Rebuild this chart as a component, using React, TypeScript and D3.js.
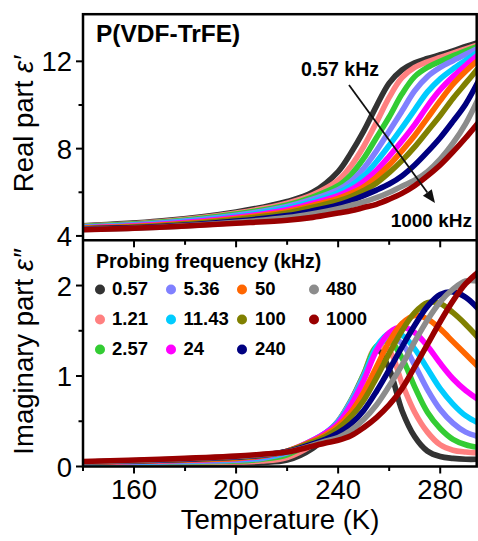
import React from "react";
import * as d3 from "d3";

const W = 478;
const H = 541;

const freqs = ["0.57", "1.21", "2.57", "5.36", "11.43", "24", "50", "100", "240", "480", "1000"];
const colors = ["#333333", "#ff8080", "#33cc33", "#8080ff", "#00ccff", "#ff00ff", "#ff6600", "#808000", "#000080", "#8c8c8c", "#990000"];

const tempsReal = [140, 170, 200, 220, 230, 240, 245, 250, 255, 260, 265, 270, 275, 280, 285, 290, 295];
const real057 = [4.47, 4.68, 5.1, 5.58, 6.0, 6.95, 7.8, 8.8, 9.95, 11.0, 11.6, 11.93, 12.13, 12.3, 12.48, 12.68, 12.87];
const real121 = [4.45, 4.65, 5.05, 5.5, 5.88, 6.55, 7.2, 8.1, 9.2, 10.35, 11.25, 11.72, 11.98, 12.18, 12.38, 12.57, 12.76];
const real257 = [4.43, 4.62, 5.0, 5.42, 5.78, 6.3, 6.8, 7.55, 8.5, 9.45, 10.5, 11.3, 11.72, 12.0, 12.25, 12.48, 12.7];
const real536 = [4.41, 4.59, 4.95, 5.35, 5.68, 6.12, 6.5, 7.1, 7.9, 8.8, 9.72, 10.65, 11.3, 11.72, 12.03, 12.32, 12.6];
const real1143 = [4.39, 4.56, 4.9, 5.28, 5.58, 5.98, 6.3, 6.75, 7.4, 8.15, 8.95, 9.78, 10.6, 11.2, 11.65, 12.05, 12.45];
const real24 = [4.37, 4.53, 4.85, 5.2, 5.5, 5.85, 6.12, 6.5, 7.0, 7.65, 8.35, 9.1, 9.95, 10.7, 11.3, 11.82, 12.3];
const real50 = [4.36, 4.5, 4.8, 5.12, 5.4, 5.72, 5.95, 6.25, 6.7, 7.25, 7.9, 8.6, 9.4, 10.2, 10.95, 11.55, 12.07];
const real100 = [4.34, 4.47, 4.75, 5.05, 5.32, 5.6, 5.8, 6.08, 6.42, 6.9, 7.45, 8.08, 8.8, 9.52, 10.3, 11.0, 11.7];
const real240 = [4.32, 4.43, 4.68, 4.93, 5.15, 5.42, 5.62, 5.85, 6.1, 6.38, 6.75, 7.25, 7.85, 8.5, 9.25, 10.05, 11.1];
const real480 = [4.3, 4.4, 4.62, 4.84, 5.02, 5.25, 5.4, 5.56, 5.75, 5.99, 6.28, 6.55, 6.95, 7.52, 8.25, 9.15, 10.3];
const real1000 = [4.28, 4.4, 4.58, 4.72, 4.85, 5.05, 5.15, 5.3, 5.45, 5.68, 5.95, 6.3, 6.75, 7.25, 7.85, 8.5, 9.2];

const tempsImag = [140, 170, 200, 210, 220, 230, 235, 240, 245, 250, 255, 260, 265, 270, 275, 280, 285, 290, 295];
const imag057 = [0.03, 0.035, 0.04, 0.045, 0.07, 0.2, 0.33, 0.48, 0.7, 1.0, 1.3, 1.08, 0.62, 0.33, 0.17, 0.11, 0.09, 0.08, 0.08];
const imag121 = [0.035, 0.04, 0.05, 0.06, 0.1, 0.24, 0.35, 0.5, 0.72, 1.02, 1.32, 1.28, 0.92, 0.6, 0.38, 0.24, 0.18, 0.16, 0.15];
const imag257 = [0.035, 0.045, 0.06, 0.08, 0.13, 0.27, 0.36, 0.5, 0.73, 1.02, 1.33, 1.39, 1.2, 0.88, 0.6, 0.42, 0.3, 0.24, 0.21];
const imag536 = [0.04, 0.05, 0.07, 0.09, 0.15, 0.28, 0.37, 0.5, 0.72, 1.0, 1.3, 1.43, 1.36, 1.12, 0.85, 0.63, 0.48, 0.38, 0.33];
const imag1143 = [0.04, 0.055, 0.08, 0.1, 0.16, 0.29, 0.37, 0.49, 0.7, 0.98, 1.32, 1.47, 1.45, 1.3, 1.08, 0.86, 0.69, 0.56, 0.48];
const imag24 = [0.045, 0.06, 0.085, 0.11, 0.17, 0.29, 0.37, 0.48, 0.68, 0.95, 1.28, 1.48, 1.54, 1.48, 1.33, 1.14, 0.97, 0.84, 0.74];
const imag50 = [0.045, 0.065, 0.09, 0.115, 0.17, 0.28, 0.35, 0.45, 0.6, 0.82, 1.1, 1.38, 1.58, 1.67, 1.63, 1.52, 1.38, 1.24, 1.1];
const imag100 = [0.05, 0.07, 0.1, 0.12, 0.17, 0.27, 0.33, 0.42, 0.55, 0.73, 0.98, 1.25, 1.5, 1.7, 1.81, 1.8, 1.7, 1.57, 1.42];
const imag240 = [0.05, 0.07, 0.105, 0.125, 0.165, 0.25, 0.3, 0.37, 0.47, 0.62, 0.83, 1.07, 1.32, 1.56, 1.77, 1.9, 1.93, 1.87, 1.74];
const imag480 = [0.05, 0.075, 0.11, 0.13, 0.16, 0.235, 0.28, 0.32, 0.4, 0.52, 0.68, 0.89, 1.12, 1.38, 1.62, 1.82, 1.96, 2.05, 2.05];
const imag1000 = [0.055, 0.08, 0.115, 0.135, 0.16, 0.225, 0.26, 0.29, 0.34, 0.43, 0.54, 0.68, 0.86, 1.1, 1.35, 1.6, 1.83, 2.02, 2.15];

const realSeries = [real057, real121, real257, real536, real1143, real24, real50, real100, real240, real480, real1000];
const imagSeries = [imag057, imag121, imag257, imag536, imag1143, imag24, imag50, imag100, imag240, imag480, imag1000];

const xMajor = [160, 200, 240, 280];
const xMinor = [140, 180, 220, 260];
const realMajor = [4, 8, 12];
const realMinor = [6, 10];
const imagMajor = [0, 1, 2];
const imagMinor = [0.5, 1.5];

const FONT = "'Liberation Sans', Arial, Helvetica, sans-serif";

export default function App() {
  const left = 83;
  const right = 476.7;
  const top = 14.2;
  const mid = 240.3;
  const bottom = 466.5;

  const x = d3.scaleLinear().domain([140, 294.3]).range([left, right]);
  const yR = d3.scaleLinear().domain([3.8, 14.16]).range([mid, top]);
  const yI = d3.scaleLinear().domain([0, 2.5]).range([bottom, mid]);

  const lineR = d3
    .line<number>()
    .x((_, i) => x(tempsReal[i]))
    .y((d) => yR(d))
    .curve(d3.curveCatmullRom.alpha(0.5));
  const lineI = d3
    .line<number>()
    .x((_, i) => x(tempsImag[i]))
    .y((d) => yI(d))
    .curve(d3.curveCatmullRom.alpha(0.5));

  const SW = 5.6;
  const axisW = 2.5;

  // arrow
  const ax1 = 349, ay1 = 85, ax2 = 435, ay2 = 203;
  const ang = Math.atan2(ay2 - ay1, ax2 - ax1);
  const hl = 13, hw = 5.5;
  const bx = ax2 - hl * Math.cos(ang);
  const by = ay2 - hl * Math.sin(ang);
  const p1 = [bx + hw * Math.sin(ang), by - hw * Math.cos(ang)];
  const p2 = [bx - hw * Math.sin(ang), by + hw * Math.cos(ang)];

  const legendCols = [
    { mx: 100, tx: 112 },
    { mx: 171, tx: 183.5 },
    { mx: 242, tx: 255 },
    { mx: 314, tx: 326 },
  ];
  const legendRows = [295, 325, 355];

  return (
    <svg width={W} height={H} style={{ position: "absolute", left: 0, top: 0, background: "#fff" }} fontFamily={FONT}>
      <defs>
        <clipPath id="clipTop">
          <rect x={left} y={top} width={right - left} height={mid - top} />
        </clipPath>
        <clipPath id="clipBot">
          <rect x={left} y={mid} width={right - left} height={bottom - mid} />
        </clipPath>
      </defs>
      <rect x={0} y={0} width={W} height={H} fill="#fff" />

      <g clipPath="url(#clipTop)">
        {realSeries.map((s, k) => (
          <path key={k} d={lineR(s) || ""} fill="none" stroke={colors[k]} strokeWidth={SW} strokeLinejoin="round" />
        ))}
      </g>
      <g clipPath="url(#clipBot)">
        {imagSeries.map((s, k) => (
          <path key={k} d={lineI(s) || ""} fill="none" stroke={colors[k]} strokeWidth={SW} strokeLinejoin="round" />
        ))}
      </g>

      {/* frames */}
      <rect x={left} y={top} width={right - left} height={bottom - top} fill="none" stroke="#000" strokeWidth={axisW} />
      <line x1={left} x2={right} y1={mid} y2={mid} stroke="#000" strokeWidth={axisW} />

      {/* x ticks bottom */}
      {xMajor.map((t) => (
        <line key={"xb" + t} x1={x(t)} x2={x(t)} y1={bottom} y2={bottom + 7} stroke="#000" strokeWidth={2} />
      ))}
      {xMinor.map((t) => (
        <line key={"xbm" + t} x1={x(t)} x2={x(t)} y1={bottom} y2={bottom + 4.5} stroke="#000" strokeWidth={2} />
      ))}
      {/* x ticks at middle line (pointing down) */}
      {xMajor.map((t) => (
        <line key={"xm" + t} x1={x(t)} x2={x(t)} y1={mid} y2={mid + 7} stroke="#000" strokeWidth={2} />
      ))}
      {xMinor.map((t) => (
        <line key={"xmm" + t} x1={x(t)} x2={x(t)} y1={mid} y2={mid + 4.5} stroke="#000" strokeWidth={2} />
      ))}
      {xMajor.map((t) => (
        <text key={"xl" + t} x={x(t)} y={498.5} fontSize={27.5} textAnchor="middle" fill="#000">
          {t}
        </text>
      ))}

      {/* y ticks top */}
      {realMajor.map((v) => (
        <g key={"yr" + v}>
          <line x1={left - 7} x2={left} y1={yR(v)} y2={yR(v)} stroke="#000" strokeWidth={2} />
          <text x={72} y={yR(v) + 10} fontSize={27.5} textAnchor="end" fill="#000">
            {v}
          </text>
        </g>
      ))}
      {realMinor.map((v) => (
        <line key={"yrm" + v} x1={left - 4.5} x2={left} y1={yR(v)} y2={yR(v)} stroke="#000" strokeWidth={2} />
      ))}
      {/* y ticks bottom */}
      {imagMajor.map((v) => (
        <g key={"yi" + v}>
          <line x1={left - 7} x2={left} y1={yI(v)} y2={yI(v)} stroke="#000" strokeWidth={2} />
          <text x={72} y={yI(v) + 10} fontSize={27.5} textAnchor="end" fill="#000">
            {v}
          </text>
        </g>
      ))}
      {imagMinor.map((v) => (
        <line key={"yim" + v} x1={left - 4.5} x2={left} y1={yI(v)} y2={yI(v)} stroke="#000" strokeWidth={2} />
      ))}

      {/* axis titles */}
      <text x={280} y={528.5} fontSize={27.5} textAnchor="middle" fill="#000">
        Temperature (K)
      </text>
      <text transform={`translate(33,124) rotate(-90)`} fontSize={27.5} textAnchor="middle" fill="#000">
        Real part <tspan fontStyle="italic">ε′</tspan>
      </text>
      <text transform={`translate(33,352) rotate(-90)`} fontSize={27.5} textAnchor="middle" fill="#000">
        Imaginary part <tspan fontStyle="italic">ε″</tspan>
      </text>

      {/* annotations */}
      <text x={96} y={42} fontSize={24.5} fontWeight="bold" fill="#000">
        P(VDF-TrFE)
      </text>
      <text x={301} y={76} fontSize={19.5} fontWeight="bold" fill="#000">
        0.57 kHz
      </text>
      <text x={472} y={227} fontSize={19} fontWeight="bold" textAnchor="end" fill="#000">
        1000 kHz
      </text>
      <line x1={ax1} y1={ay1} x2={bx} y2={by} stroke="#111" strokeWidth={1.8} />
      <polygon points={`${ax2},${ay2} ${p1[0]},${p1[1]} ${p2[0]},${p2[1]}`} fill="#111" />

      {/* legend */}
      <text x={96} y={268} fontSize={19.5} fontWeight="bold" fill="#000">
        Probing frequency (kHz)
      </text>
      {freqs.map((f, k) => {
        const c = Math.floor(k / 3);
        const r = k % 3;
        const col = legendCols[c];
        const yb = legendRows[r];
        return (
          <g key={"lg" + k}>
            <circle cx={col.mx} cy={yb - 5.5} r={5} fill={colors[k]} />
            <text x={col.tx} y={yb} fontSize={18.5} fontWeight="bold" fill="#000">
              {f}
            </text>
          </g>
        );
      })}
    </svg>
  );
}
